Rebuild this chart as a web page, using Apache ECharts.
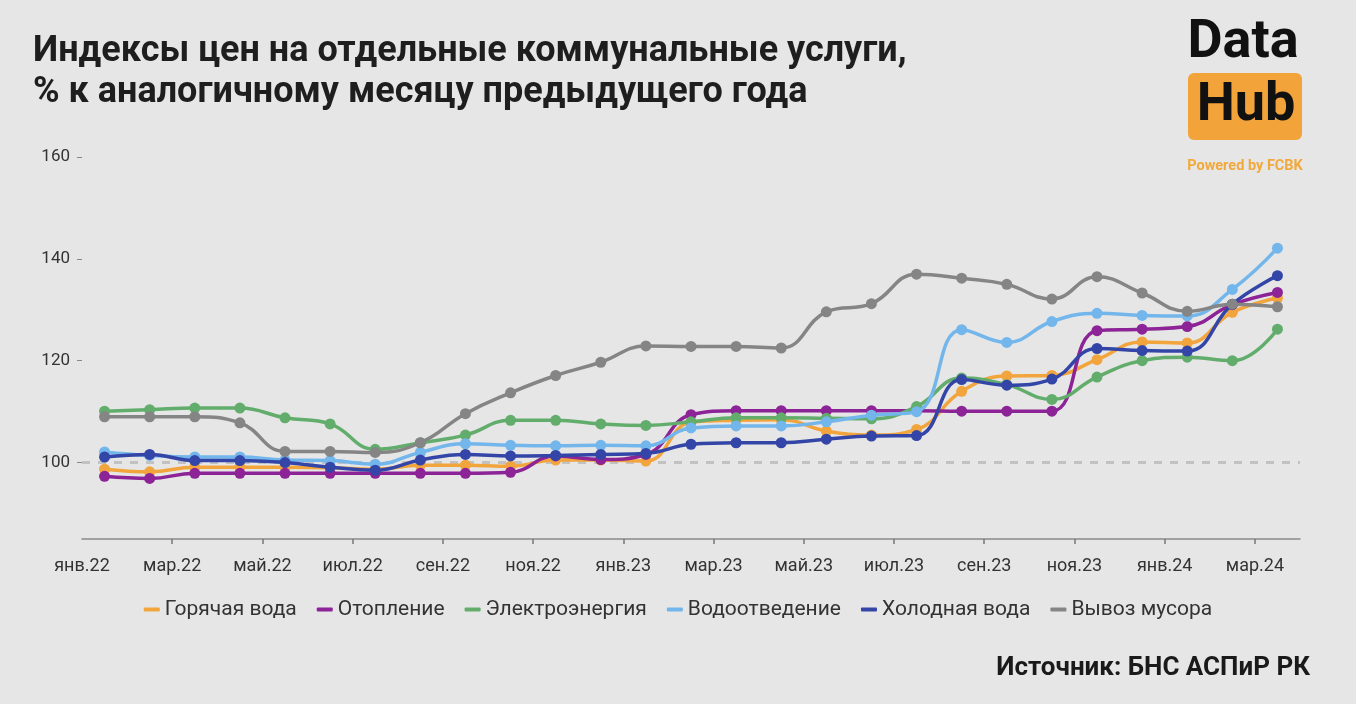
<!DOCTYPE html>
<html>
<head>
<meta charset="utf-8">
<script src="https://cdn.jsdelivr.net/npm/echarts@6/dist/echarts.min.js"></script>
<style>
html,body{margin:0;padding:0;background:#e6e6e6;}
#chart{width:1356px;height:704px;}
</style>
</head>
<body>
<div id="chart"></div>
<script>
const months = ['янв.22','фев.22','мар.22','апр.22','май.22','июн.22','июл.22','авг.22','сен.22','окт.22','ноя.22','дек.22',
  'янв.23','фев.23','мар.23','апр.23','май.23','июн.23','июл.23','авг.23','сен.23','окт.23','ноя.23','дек.23',
  'янв.24','фев.24','мар.24'];
const tickLabels = ['янв.22','мар.22','май.22','июл.22','сен.22','ноя.22','янв.23','мар.23','май.23','июл.23','сен.23','ноя.23','янв.24','мар.24'];
const yTicks = [100, 120, 140, 160];

const hotWater = [98.7,98.2,99.1,99.1,99.1,99.0,98.7,99.5,99.5,99.3,100.5,100.5,100.3,107.9,108.3,108.4,106.2,105.4,106.5,114.0,117.0,117.1,120.2,123.7,123.5,129.5,132.3];
const heating = [97.3,96.9,97.9,97.9,97.9,97.9,97.9,97.9,97.9,98.1,101.3,100.6,101.6,109.4,110.2,110.2,110.2,110.2,110.2,110.1,110.1,110.1,125.9,126.2,126.7,131.0,133.4];
const electricity = [110.1,110.4,110.7,110.7,108.8,107.6,102.6,103.9,105.4,108.3,108.3,107.6,107.3,108.0,108.8,108.8,108.7,108.6,111.0,116.6,115.3,112.4,116.8,120.0,120.7,120.0,126.2];
const sewerage = [102.1,101.4,101.1,101.1,100.5,100.4,99.7,102.0,103.7,103.4,103.3,103.4,103.3,106.8,107.2,107.2,108.0,109.3,110.0,126.1,123.6,127.7,129.3,128.9,128.8,134.0,142.1];
const coldWater = [101.1,101.6,100.4,100.4,100.0,99.1,98.5,100.5,101.6,101.3,101.4,101.6,101.8,103.6,103.9,103.9,104.6,105.2,105.3,116.3,115.2,116.4,122.4,122.0,121.9,131.1,136.7];
const garbage = [109.0,109.0,109.0,107.8,102.2,102.2,102.0,103.9,109.6,113.7,117.1,119.7,122.9,122.8,122.8,122.5,129.6,131.2,137.0,136.2,135.0,132.1,136.5,133.3,129.7,131.1,130.6];

const seriesNames = ['Горячая вода','Отопление','Электроэнергия','Водоотведение','Холодная вода','Вывоз мусора'];
const seriesData = [hotWater, heating, electricity, sewerage, coldWater, garbage];
const colors = ['#f2a53c','#8c2396','#62ad6c','#72b6ec','#3445a8','#858585'];

const labelSlots = [];
tickLabels.forEach(l => { labelSlots.push(l); labelSlots.push(''); });

const FONT = 'Roboto';
const chart = echarts.init(document.getElementById('chart'), null, {renderer: 'canvas'});

const series = seriesData.map((d, i) => ({
  name: seriesNames[i],
  type: 'line',
  data: d,
  xAxisIndex: 0,
  smooth: 0.45,
  symbol: 'circle',
  symbolSize: 11,
  showSymbol: true,
  lineStyle: {width: 3.5, color: colors[i]},
  itemStyle: {color: colors[i]},
  emphasis: {disabled: true},
  z: 3 + i
}));
series[0].markLine = {
  silent: true,
  symbol: 'none',
  label: {show: false},
  lineStyle: {color: '#c2c2c2', width: 3, type: [8, 8]},
  data: [{yAxis: 100}],
  z: 1
};

chart.setOption({
  backgroundColor: '#e6e6e6',
  animation: false,
  textStyle: {fontFamily: FONT},
  grid: {left: 82, right: 56, top: 157, bottom: 165},
  xAxis: [
    {type: 'category', data: months, boundaryGap: true, show: false, position: 'top'},
    {
      type: 'category', data: labelSlots, boundaryGap: false, position: 'bottom',
      axisLine: {onZero: false, lineStyle: {color: '#8a8a8a', width: 1.5}},
      axisTick: {show: true, interval: (i) => i > 0 && i % 2 === 0, length: 5, lineStyle: {color: '#777', width: 1.5}},
      axisLabel: {interval: 0, color: '#333', fontSize: 18, margin: 18, fontFamily: FONT},
      splitLine: {show: false}
    }
  ],
  yAxis: {
    type: 'value', min: 85, max: 160,
    axisLine: {show: false},
    splitLine: {show: false},
    axisTick: {show: true, customValues: yTicks, length: 5, lineStyle: {color: '#888', width: 1}},
    axisLabel: {customValues: yTicks, color: '#333', fontSize: 17, margin: 12, fontFamily: FONT}
  },
  legend: {
    data: seriesNames,
    left: 'center',
    top: 594,
    icon: 'roundRect',
    itemWidth: 16,
    itemHeight: 4,
    itemGap: 20,
    textStyle: {color: '#333', fontSize: 21, fontFamily: FONT},
    selectedMode: false
  },
  graphic: [
    {type: 'text', left: 33, top: 31, style: {text: 'Индексы цен на отдельные коммунальные услуги,\n% к аналогичному месяцу предыдущего года', font: 'bold 36px ' + FONT, fill: '#1e1e1e', lineHeight: 41}},
    {type: 'text', x: 1310, y: 668, style: {text: 'Источник: БНС АСПиР РК', font: 'bold 26px ' + FONT, fill: '#1a1a1a', align: 'right', verticalAlign: 'middle'}},
    {type: 'text', x: 1243, y: 43, style: {text: 'Data', font: 'bold 54px ' + FONT, fill: '#111', align: 'center', verticalAlign: 'middle'}},
    {type: 'rect', shape: {x: 1188, y: 73, width: 114, height: 67, r: 6}, style: {fill: '#f2a33a'}},
    {type: 'text', x: 1246, y: 106, style: {text: 'Hub', font: 'bold 54px ' + FONT, fill: '#111', align: 'center', verticalAlign: 'middle'}},
    {type: 'text', x: 1245, y: 166, style: {text: 'Powered by FCBK', font: 'bold 14.5px ' + FONT, fill: '#f2a93b', align: 'center', verticalAlign: 'middle'}}
  ],
  series: series
});
</script>
</body>
</html>
